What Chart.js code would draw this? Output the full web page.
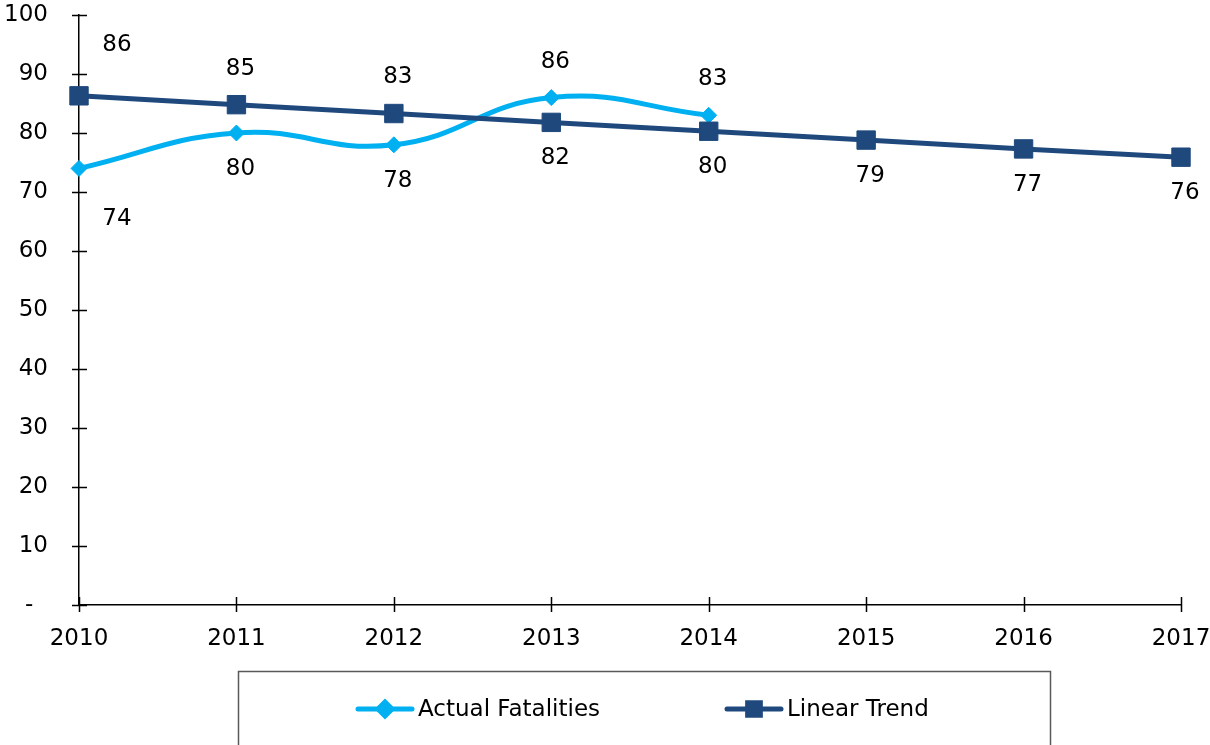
<!DOCTYPE html>
<html>
<head>
<meta charset="utf-8">
<title>Fatalities</title>
<script src="https://cdn.jsdelivr.net/npm/chart.js@4/dist/chart.umd.min.js"></script>
<style>
  body { margin: 0; background: #fff; }
  canvas { display: block; }
</style>
</head>
<body>
<canvas id="fatalGraph" width="1210" height="745"></canvas>
<script>
var years = ['2010', '2011', '2012', '2013', '2014', '2015', '2016', '2017'];
var actualFatalities = [74, 80, 78, 86, 83, null, null, null];
var linearTrend = [86.3, 84.8, 83.3, 81.8, 80.3, 78.8, 77.3, 75.9];

var FONT = 'Verdana, "DejaVu Sans", sans-serif';
var FONT_SIZE = 23;
var lightBlue = '#00B0F0';
var navy = '#1F497D';

// short tick marks that cross both axes
var crossTicks = {
    id: 'crossTicks',
    afterDraw: function(chart) {
        var c = chart.ctx, x = chart.scales.x, y = chart.scales.y;
        c.save();
        c.strokeStyle = '#000';
        c.lineWidth = 1.5;
        c.beginPath();
        y.ticks.forEach(function(t, i) {
            var py = Math.round(y.getPixelForTick(i)) + 0.5;
            c.moveTo(x.left - 7, py);
            c.lineTo(x.left + 8, py);
        });
        x.ticks.forEach(function(t, i) {
            var px = Math.round(x.getPixelForTick(i)) + 0.5;
            c.moveTo(px, y.bottom - 8);
            c.lineTo(px, y.bottom + 7);
        });
        c.stroke();
        c.restore();
    }
};

// value labels: the higher series goes above its point, the lower one below
var valueLabels = {
    id: 'valueLabels',
    afterDatasetsDraw: function(chart) {
        var c = chart.ctx;
        var sets = chart.data.datasets;
        c.save();
        c.font = FONT_SIZE + 'px ' + FONT;
        c.fillStyle = '#000';
        c.textAlign = 'center';
        c.textBaseline = 'middle';
        sets.forEach(function(ds, di) {
            var meta = chart.getDatasetMeta(di);
            ds.data.forEach(function(v, i) {
                if (v === null) return;
                var pt = meta.data[i];
                var above = false;
                sets.forEach(function(other, oi) {
                    if (oi !== di && other.data[i] !== null && v > other.data[i]) above = true;
                });
                var dx = i === 0 ? 38 : 4;
                var dy = i === 0 ? 51 : 36;
                c.fillText(Math.round(v), pt.x + dx, pt.y + (above ? -dy : dy));
            });
        });
        c.restore();
    }
};

// boxed legend with line + marker samples
var boxLegend = {
    id: 'boxLegend',
    afterDraw: function(chart) {
        var c = chart.ctx;
        var top = 671.5, midY = 709;
        var starts = [358, 727];
        c.save();
        c.strokeStyle = '#595959';
        c.lineWidth = 1.5;
        c.strokeRect(238.5, top, 812, 120);
        chart.data.datasets.forEach(function(ds, i) {
            var x0 = starts[i];
            c.strokeStyle = ds.borderColor;
            c.lineWidth = 5;
            c.lineCap = 'round';
            c.beginPath();
            c.moveTo(x0, midY);
            c.lineTo(x0 + 54, midY);
            c.stroke();
            Chart.helpers.drawPoint(c, {
                pointStyle: ds.pointStyle,
                radius: ds.pointStyle === 'rect' ? 9 : 7,
                borderWidth: 1
            }, x0 + 27, midY);
            c.fillStyle = ds.borderColor;
            c.fill();
            c.fillStyle = '#000';
            c.font = FONT_SIZE + 'px ' + FONT;
            c.textAlign = 'left';
            c.textBaseline = 'middle';
            c.fillText(ds.label, x0 + 60, midY + 1);
        });
        c.restore();
    }
};

var ctx = document.getElementById('fatalGraph').getContext('2d');
var graph = new Chart(ctx, {
    type: 'line',
    data: {
        labels: years,
        datasets: [
            {
                label: 'Actual Fatalities',
                data: actualFatalities,
                borderColor: lightBlue,
                backgroundColor: lightBlue,
                borderWidth: 5,
                tension: 0.45,
                pointStyle: 'rectRot',
                pointRadius: 8,
                pointBorderWidth: 1,
                spanGaps: false,
                clip: false,
                order: 1
            },
            {
                label: 'Linear Trend',
                data: linearTrend,
                borderColor: navy,
                backgroundColor: navy,
                borderWidth: 5,
                tension: 0,
                pointStyle: 'rect',
                pointRadius: 13,
                pointBorderWidth: 1,
                clip: false,
                order: 0
            }
        ]
    },
    options: {
        responsive: false,
        animation: false,
        layout: { autoPadding: false, padding: { top: 15, right: 29, left: 0, bottom: 0 } },
        scales: {
            x: {
                offset: false,
                grid: { display: false, drawTicks: false },
                border: { color: '#000', width: 1.5 },
                ticks: {
                    color: '#000',
                    font: { family: FONT, size: FONT_SIZE },
                    padding: 20,
                    maxRotation: 0
                },
                afterFit: function(scale) {
                    scale.height = 140;
                    scale.paddingLeft = 0;
                    scale.paddingRight = 0;
                }
            },
            y: {
                min: 0,
                max: 100,
                grid: { display: false, drawTicks: false },
                border: { color: '#000', width: 1.5 },
                ticks: {
                    stepSize: 10,
                    color: '#000',
                    font: { family: FONT, size: FONT_SIZE },
                    padding: 31,
                    callback: function(v) { return v === 0 ? '-  ' : v; }
                },
                afterFit: function(scale) {
                    scale.width = 79;
                    scale.paddingTop = 0;
                    scale.paddingBottom = 0;
                }
            }
        },
        plugins: {
            legend: { display: false },
            tooltip: { enabled: false }
        }
    },
    plugins: [crossTicks, valueLabels, boxLegend]
});
</script>
</body>
</html>
